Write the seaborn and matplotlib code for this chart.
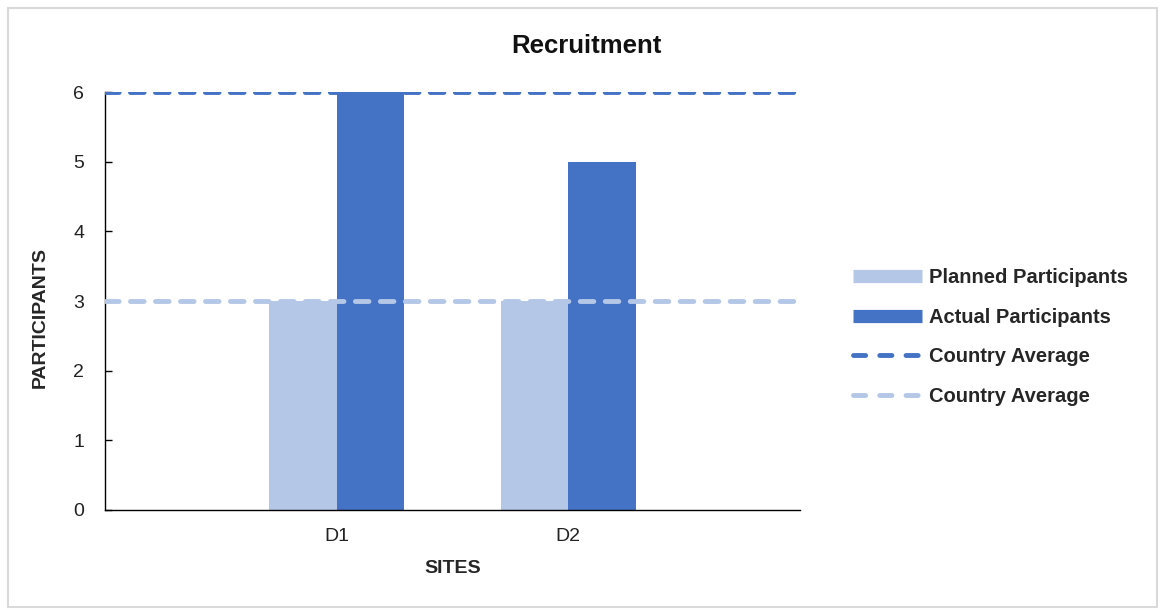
import matplotlib
matplotlib.use("Agg")
import matplotlib.pyplot as plt
import seaborn as sns
import pandas as pd
from matplotlib.lines import Line2D
from matplotlib.patches import Rectangle

# Recruitment data per site
sites = ["D1", "D2"]
planned = [3, 3]
actual = [6, 5]
avg_actual = 6
avg_planned = 3
series_names = ["Planned Participants", "Actual Participants"]
avg_labels = ["Country Average", "Country Average"]

LIGHT = "#B4C7E7"
DARK = "#4472C4"

df = pd.DataFrame({
    "site": sites * 2,
    "value": planned + actual,
    "series": [series_names[0]] * len(sites) + [series_names[1]] * len(sites),
})

sns.set_theme(style="white")
plt.rcParams["font.family"] = ["Liberation Sans", "DejaVu Sans"]

fig = plt.figure(figsize=(11.61, 6.10), dpi=100)
ax = fig.add_axes([105 / 1161, 1 - 510 / 610, 695 / 1161, 418 / 610])

sns.barplot(data=df, x="site", y="value", hue="series", order=sites,
            hue_order=series_names, palette=[LIGHT, DARK], width=0.58,
            gap=0, saturation=1, legend=False, linewidth=0, ax=ax, zorder=2)

# country averages as dashed reference lines over the bars
dash = dict(linewidth=3.5, dashes=(2.8, 2.34), dash_capstyle="round", zorder=3)
ax.axhline(avg_actual, color=DARK, **dash)
ax.axhline(avg_planned, color=LIGHT, **dash)

ax.set_xlim(-1, 2)
ax.set_ylim(0, 6)
ax.set_yticks(range(0, 7))
for s in ["top", "right"]:
    ax.spines[s].set_visible(False)
for s in ["left", "bottom"]:
    ax.spines[s].set_color("black")
    ax.spines[s].set_linewidth(1.0)
ax.tick_params(axis="y", direction="in", length=5, width=1, color="black",
               pad=15, labelsize=14, labelcolor="#222222", left=True)
ax.tick_params(axis="x", direction="in", length=5, width=1, color="black",
               pad=13, labelsize=14, labelcolor="#222222", bottom=True)

ax.set_xlabel("SITES", fontsize=14, fontweight="bold")
ax.xaxis.set_label_coords(0.5, -(560 - 510) / 418)
ax.set_ylabel("PARTICIPANTS", fontsize=14, fontweight="bold")
ax.yaxis.set_label_coords(-(105 - 49) / 695, 0.46)
fig.text(586 / 1161, 1 - 46 / 610, "Recruitment", ha="center", va="center",
         fontsize=18.5, fontweight="bold", color="#111111")

handles = [
    Line2D([], [], color=LIGHT, linewidth=9.5, solid_capstyle="butt"),
    Line2D([], [], color=DARK, linewidth=9.5, solid_capstyle="butt"),
    Line2D([], [], color=DARK, linewidth=3.5, dashes=(2.5, 2.9), dash_capstyle="round"),
    Line2D([], [], color=LIGHT, linewidth=3.5, dashes=(2.5, 2.9), dash_capstyle="round"),
]
fig.legend(handles, series_names + avg_labels, loc="center left",
           bbox_to_anchor=(853 / 1161, 1 - 337 / 610), frameon=False,
           prop={"weight": "bold", "size": 14.5}, handlelength=3.45,
           handletextpad=0.3, labelspacing=1.03, borderpad=0, borderaxespad=0)

fig.patches.append(Rectangle((8 / 1161, 3 / 610), 1149 / 1161, 599 / 610,
                             transform=fig.transFigure, fill=False,
                             edgecolor="#D9D9D9", linewidth=1.5))

fig.savefig("out.png", dpi=100, facecolor="white")
